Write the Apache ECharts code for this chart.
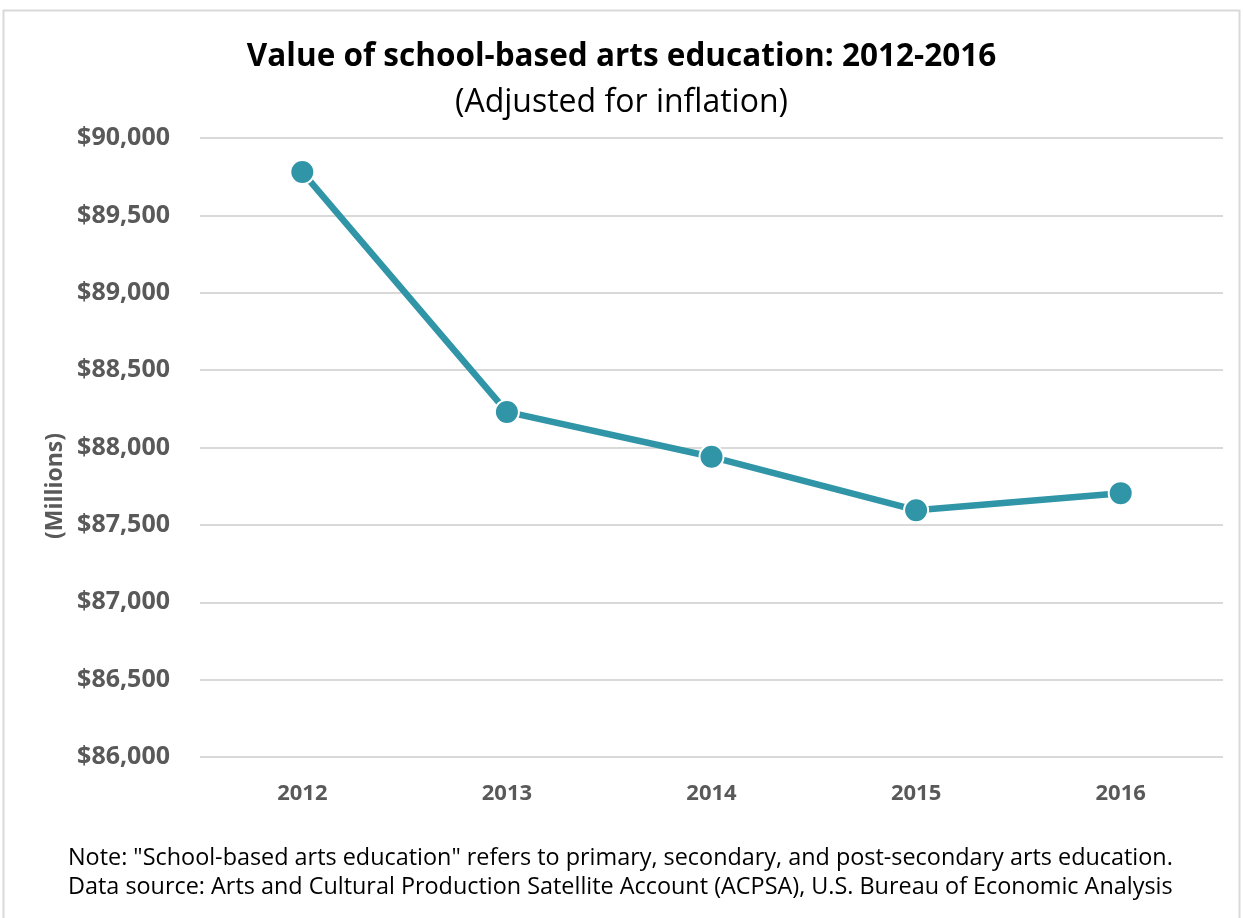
<!DOCTYPE html>
<html>
<head>
<meta charset="utf-8">
<script src="https://cdn.jsdelivr.net/npm/echarts@6/dist/echarts.min.js"></script>
<style>
  html, body { margin: 0; padding: 0; background: #fff; }
  #chart { width: 1243px; height: 918px; }
</style>
</head>
<body>
<div id="chart"></div>
<script>
// Years shown on the category axis
const years = ['2012', '2013', '2014', '2015', '2016'];
// Value of school-based arts education, millions of dollars (inflation adjusted)
const values = [89780, 88230, 87940, 87595, 87705];
// Value-axis range and step
const yMin = 86000;
const yMax = 90000;
const yStep = 500;

const titleText = 'Value of school-based arts education: 2012-2016';
const subtitleText = '(Adjusted for inflation)';
const axisName = '(Millions)';
const noteLines = [
  'Note: "School-based arts education" refers to primary, secondary, and post-secondary arts education.',
  'Data source: Arts and Cultural Production Satellite Account (ACPSA), U.S. Bureau of Economic Analysis'
];

const FONT = '"Open Sans", "Noto Sans", sans-serif';
const chart = echarts.init(document.getElementById('chart'), null, { renderer: 'canvas' });

chart.setOption({
  backgroundColor: '#ffffff',
  animation: false,
  graphic: [
    {
      type: 'rect',
      shape: { x: 3.5, y: 10.5, width: 1236, height: 920 },
      style: { fill: 'none', stroke: '#d9d9d9', lineWidth: 2 },
      silent: true
    },
    {
      // rotated value-axis caption
      type: 'text',
      x: 55,
      y: 486,
      rotation: Math.PI / 2,
      style: {
        text: axisName,
        font: 'bold 23px ' + FONT,
        fill: '#595959',
        align: 'center',
        verticalAlign: 'middle'
      }
    },
    {
      type: 'text',
      left: 68,
      top: 844,
      style: {
        text: noteLines.join('\n'),
        font: '23.4px ' + FONT,
        fill: '#000000',
        lineHeight: 29
      }
    }
  ],
  title: [
    {
      text: titleText,
      left: 'center',
      top: 36,
      textStyle: { fontFamily: FONT, fontWeight: 'bold', fontSize: 31.5, color: '#000000' }
    },
    {
      text: subtitleText,
      left: 'center',
      top: 82,
      textStyle: { fontFamily: FONT, fontWeight: 'normal', fontSize: 32, color: '#000000' }
    }
  ],
  grid: { left: 200, right: 20, top: 138, bottom: 161, containLabel: false },
  xAxis: {
    type: 'category',
    data: years,
    boundaryGap: true,
    axisLine: { show: false },
    axisTick: { show: false },
    axisLabel: {
      margin: 26,
      fontFamily: FONT,
      fontWeight: 'bold',
      fontSize: 22,
      color: '#595959'
    }
  },
  yAxis: {
    type: 'value',
    min: yMin,
    max: yMax,
    interval: yStep,
    axisLine: { show: false },
    axisTick: { show: false },
    splitLine: { lineStyle: { color: '#d9d9d9', width: 2 } },
    axisLabel: {
      margin: 30,
      fontFamily: FONT,
      fontWeight: 'bold',
      fontSize: 25,
      color: '#595959',
      formatter: v => '$' + v.toLocaleString('en-US')
    }
  },
  series: [
    {
      type: 'line',
      data: values,
      symbol: 'circle',
      symbolSize: 24,
      lineStyle: { color: '#3195a8', width: 6.5 },
      itemStyle: { color: '#3195a8', borderColor: '#ffffff', borderWidth: 2 }
    }
  ]
});
</script>
</body>
</html>
